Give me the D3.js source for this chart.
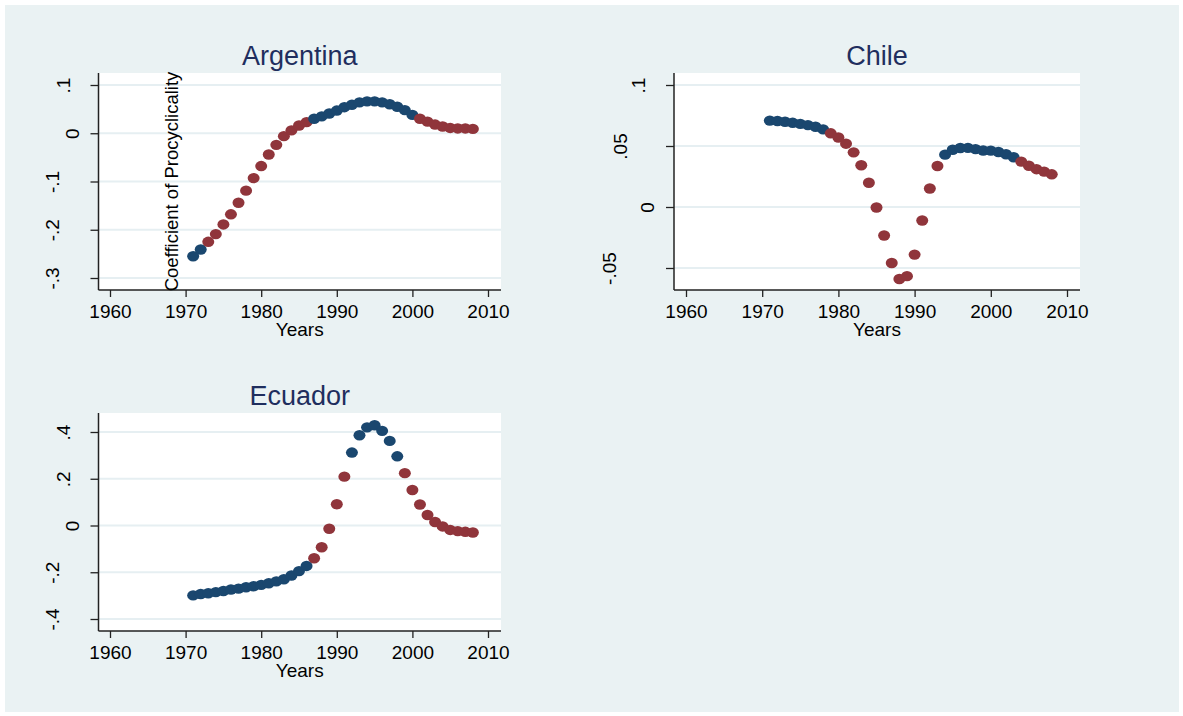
<!DOCTYPE html>
<html>
<head>
<meta charset="utf-8">
<script src="https://cdn.jsdelivr.net/npm/d3@7"></script>
<style>
  body { margin: 0; background: #fff; }
  svg text { font-family: "Liberation Sans", Arial, sans-serif; }
</style>
</head>
<body>
<svg id="chart" width="1183" height="716"></svg>
<script>
// data
var years = [1971, 1972, 1973, 1974, 1975, 1976, 1977, 1978, 1979, 1980,
  1981, 1982, 1983, 1984, 1985, 1986, 1987, 1988, 1989, 1990,
  1991, 1992, 1993, 1994, 1995, 1996, 1997, 1998, 1999, 2000,
  2001, 2002, 2003, 2004, 2005, 2006, 2007, 2008];

var argentina = [-.255, -.241, -.225, -.209, -.189, -.168, -.144, -.119, -.093, -.068,
  -.044, -.024, -.006, .006, .016, .023, .030, .035, .041, .047,
  .054, .059, .064, .066, .066, .064, .060, .055, .048, .038,
  .030, .024, .018, .014, .011, .010, .010, .009];
var argentinaRed = [0, 0, 1, 1, 1, 1, 1, 1, 1, 1, 1, 1, 1, 1, 1, 1, 0, 0, 0, 0,
  0, 0, 0, 0, 0, 0, 0, 0, 0, 0, 1, 1, 1, 1, 1, 1, 1, 1];

var chile = [.0708, .0705, .0699, .0690, .0681, .0671, .0658, .0636, .0604, .0570,
  .0519, .0448, .0342, .0199, -.0004, -.0234, -.0459, -.0590, -.0567, -.0390,
  -.0111, .0152, .0336, .0429, .0469, .0484, .0485, .0474, .0463, .0462,
  .0451, .0432, .0408, .0372, .0338, .0310, .0290, .0268];
var chileRed = [0, 0, 0, 0, 0, 0, 0, 0, 1, 1, 1, 1, 1, 1, 1, 1, 1, 1, 1, 1,
  1, 1, 1, 0, 0, 0, 0, 0, 0, 0, 0, 0, 0, 1, 1, 1, 1, 1];

var ecuador = [-.299, -.293, -.290, -.285, -.280, -.274, -.270, -.264, -.260, -.254,
  -.247, -.239, -.230, -.214, -.195, -.173, -.140, -.093, -.014, .091,
  .209, .312, .386, .420, .429, .405, .362, .296, .224, .152,
  .090, .045, .015, -.004, -.019, -.024, -.027, -.030];
var ecuadorRed = [0, 0, 0, 0, 0, 0, 0, 0, 0, 0, 0, 0, 0, 0, 0, 0, 1, 1, 1, 1,
  1, 0, 0, 0, 0, 0, 0, 0, 1, 1, 1, 1, 1, 1, 1, 1, 1, 1];

var xTicks = [1960, 1970, 1980, 1990, 2000, 2010];
var argTicks = [-.3, -.2, -.1, 0, .1];
var argLabels = ["-.3", "-.2", "-.1", "0", ".1"];
var chiTicks = [-.05, 0, .05, .1];
var chiLabels = ["-.05", "0", ".05", ".1"];
var ecuTicks = [-.4, -.2, 0, .2, .4];
var ecuLabels = ["-.4", "-.2", "0", ".2", ".4"];

var blue = "#1a476f", red = "#90353b", grid = "#e6eff2", bg = "#eaf2f3";

var panels = [
  {name: "Argentina", vals: argentina, red: argentinaRed, ticks: argTicks, labels: argLabels,
   left: 98.5, top: 73, right: 501, bottom: 290, x0: 110, x1: 488, yTop: 85, yBot: 278, ytitle: true},
  {name: "Chile", vals: chile, red: chileRed, ticks: chiTicks, labels: chiLabels,
   left: 674, top: 73, right: 1080, bottom: 290, x0: 686, x1: 1067, yTop: 85, yBot: 268, ytitle: false},
  {name: "Ecuador", vals: ecuador, red: ecuadorRed, ticks: ecuTicks, labels: ecuLabels,
   left: 98.5, top: 413, right: 501, bottom: 631, x0: 110, x1: 488, yTop: 432, yBot: 619, ytitle: false}
];

var svg = d3.select("#chart");

svg.append("rect")
  .attr("x", 5).attr("y", 5)
  .attr("width", 1174).attr("height", 707)
  .attr("fill", bg);

panels.forEach(function(p) {
  var x = d3.scaleLinear().domain([1960, 2010]).range([p.x0, p.x1]);
  var y = d3.scaleLinear()
    .domain([p.ticks[0], p.ticks[p.ticks.length - 1]])
    .range([p.yBot, p.yTop]);

  var g = svg.append("g");

  g.append("rect")
    .attr("x", p.left).attr("y", p.top)
    .attr("width", p.right - p.left).attr("height", p.bottom - p.top)
    .attr("fill", "#fff");

  // grid lines
  g.selectAll(".grid")
    .data(p.ticks)
    .enter().append("line")
      .attr("x1", p.left).attr("x2", p.right)
      .attr("y1", function(d) { return y(d); })
      .attr("y2", function(d) { return y(d); })
      .attr("stroke", grid)
      .attr("stroke-width", 2);

  // points
  g.selectAll(".pt")
    .data(p.vals)
    .enter().append("ellipse")
      .attr("cx", function(d, i) { return x(years[i]); })
      .attr("cy", function(d) { return y(d); })
      .attr("rx", 6).attr("ry", 5.2)
      .attr("fill", function(d, i) { return p.red[i] ? red : blue; });

  // x axis
  var xAxis = d3.axisBottom(x).tickValues(xTicks).tickSize(7).tickPadding(8)
    .tickFormat(d3.format("d"));
  var xg = g.append("g")
    .attr("transform", "translate(0," + p.bottom + ")")
    .call(xAxis);
  xg.select(".domain").remove();
  xg.selectAll("line").attr("stroke", "#222").attr("stroke-width", 1.3);
  xg.selectAll("text").attr("font-size", 19).attr("fill", "#000")
    .style("font-family", "'Liberation Sans', Arial, sans-serif");

  // y axis
  var yAxis = d3.axisLeft(y).tickValues(p.ticks).tickSize(8)
    .tickFormat(function(d, i) { return p.labels[i]; });
  var yg = g.append("g")
    .attr("transform", "translate(" + p.left + ",0)")
    .call(yAxis);
  yg.select(".domain").remove();
  yg.selectAll("line").attr("stroke", "#222").attr("stroke-width", 1.3);
  yg.selectAll("text")
    .attr("font-size", 19).attr("fill", "#000")
    .style("font-family", "'Liberation Sans', Arial, sans-serif")
    .attr("x", 0).attr("dy", 0)
    .attr("text-anchor", "middle")
    .attr("transform", function() {
      var w = this.getComputedTextLength();
      return "translate(" + (-(2 + 1.7 * w)) + ",0) rotate(-90)";
    });

  // axis lines
  g.append("line")
    .attr("x1", p.left).attr("x2", p.left)
    .attr("y1", p.top).attr("y2", p.bottom)
    .attr("stroke", "#222").attr("stroke-width", 1.5);
  g.append("line")
    .attr("x1", p.left).attr("x2", p.right)
    .attr("y1", p.bottom).attr("y2", p.bottom)
    .attr("stroke", "#222").attr("stroke-width", 1.5);

  // titles
  var cx = (p.left + p.right) / 2;
  g.append("text")
    .attr("x", cx).attr("y", p.top - 8)
    .attr("text-anchor", "middle")
    .attr("font-size", 27)
    .attr("fill", "#1f2e5e")
    .text(p.name);

  g.append("text")
    .attr("x", cx).attr("y", p.bottom + 46)
    .attr("text-anchor", "middle")
    .attr("font-size", 19)
    .attr("fill", "#000")
    .text("Years");

  if (p.ytitle) {
    g.append("text")
      .attr("transform", "translate(178," + ((p.top + p.bottom) / 2) + ") rotate(-90)")
      .attr("text-anchor", "middle")
      .attr("font-size", 18.5)
      .attr("fill", "#000")
      .text("Coefficient of Procyclicality");
  }
});
</script>
</body>
</html>
